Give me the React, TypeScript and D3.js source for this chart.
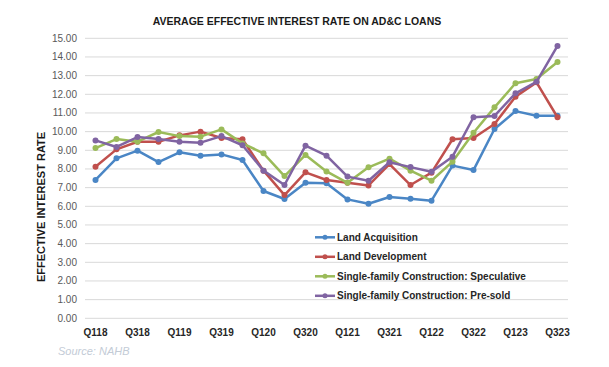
import React, { useEffect, useRef } from "react";
import * as d3 from "d3";

const quarters = [
  "Q118", "Q218", "Q318", "Q418", "Q119", "Q219", "Q319", "Q419",
  "Q120", "Q220", "Q320", "Q420", "Q121", "Q221", "Q321", "Q421",
  "Q122", "Q222", "Q322", "Q422", "Q123", "Q223", "Q323",
];
const shownLabels = ["Q118", "Q318", "Q119", "Q319", "Q120", "Q320", "Q121", "Q321", "Q122", "Q322", "Q123", "Q323"];

const landAcquisition = [7.41, 8.57, 8.98, 8.37, 8.89, 8.71, 8.78, 8.48, 6.82, 6.39, 7.26, 7.24, 6.37, 6.14, 6.5, 6.41, 6.3, 8.18, 7.94, 10.14, 11.1, 10.85, 10.85];
const landDevelopment = [8.12, 9.05, 9.46, 9.46, 9.8, 10.0, 9.66, 9.59, 7.91, 6.6, 7.82, 7.41, 7.26, 7.12, 8.26, 7.14, 7.8, 9.59, 9.66, 10.41, 11.87, 12.64, 10.77];
const speculative = [9.12, 9.6, 9.46, 9.98, 9.76, 9.73, 10.12, 9.37, 8.84, 7.62, 8.75, 7.87, 7.26, 8.09, 8.55, 7.91, 7.37, 8.39, 9.94, 11.3, 12.59, 12.82, 13.73];
const preSold = [9.53, 9.18, 9.71, 9.6, 9.46, 9.41, 9.76, 9.27, 7.91, 7.14, 9.25, 8.71, 7.59, 7.37, 8.36, 8.1, 7.85, 8.66, 10.77, 10.84, 12.05, 12.67, 14.59];

const seriesNames = [
  "Land Acquisition",
  "Land Development",
  "Single-family Construction: Speculative",
  "Single-family Construction: Pre-sold",
];
const seriesColors = ["#4a86c5", "#c0504d", "#9bbb59", "#8064a2"];
const yTicks = d3.range(0, 16, 1);

export default function App() {
  const ref = useRef<SVGSVGElement | null>(null);

  useEffect(() => {
    const width = 609;
    const height = 367;
    const font = "'Liberation Sans', Arial, sans-serif";
    const svg = d3.select(ref.current);
    svg.selectAll("*").remove();
    svg.append("rect").attr("width", width).attr("height", height).attr("fill", "#fff");

    const x = d3.scaleBand().domain(quarters).range([85, 568]);
    const y = d3.scaleLinear().domain([0, 15]).range([318.3, 38.3]);
    const cx = (q: string) => (x(q) as number) + x.bandwidth() / 2;

    // gridlines
    svg.append("g")
      .selectAll("line")
      .data(yTicks)
      .enter()
      .append("line")
      .attr("x1", 85)
      .attr("x2", 568)
      .attr("y1", (d) => y(d))
      .attr("y2", (d) => y(d))
      .attr("stroke", "#d9d9d9")
      .attr("stroke-width", 1);

    // y tick labels
    svg.append("g")
      .selectAll("text")
      .data(yTicks)
      .enter()
      .append("text")
      .attr("x", 77)
      .attr("y", (d) => y(d))
      .attr("dy", "0.35em")
      .attr("text-anchor", "end")
      .style("font-family", font)
      .style("font-size", "10px")
      .attr("fill", "#595959")
      .text((d) => d3.format(".2f")(d));

    // x labels
    svg.append("g")
      .selectAll("text")
      .data(shownLabels)
      .enter()
      .append("text")
      .attr("x", (d) => cx(d))
      .attr("y", 332)
      .attr("dy", "0.35em")
      .attr("text-anchor", "middle")
      .style("font-family", font)
      .style("font-size", "10px")
      .style("font-weight", "bold")
      .attr("fill", "#262626")
      .text((d) => d);

    const allSeries = [landAcquisition, landDevelopment, speculative, preSold];
    const line = d3
      .line<number>()
      .x((_, i) => cx(quarters[i]))
      .y((d) => y(d));

    allSeries.forEach((vals, s) => {
      const g = svg.append("g");
      g.append("path")
        .datum(vals)
        .attr("d", line)
        .attr("fill", "none")
        .attr("stroke", seriesColors[s])
        .attr("stroke-width", 2.5)
        .attr("stroke-linejoin", "round");
      g.selectAll("circle")
        .data(vals)
        .enter()
        .append("circle")
        .attr("cx", (_, i) => cx(quarters[i]))
        .attr("cy", (d) => y(d))
        .attr("r", 3)
        .attr("fill", seriesColors[s]);
    });

    // legend
    const legend = svg.append("g");
    seriesNames.forEach((name, i) => {
      const ly = 237.3 + i * 19.5;
      legend.append("line")
        .attr("x1", 315).attr("x2", 335)
        .attr("y1", ly).attr("y2", ly)
        .attr("stroke", seriesColors[i]).attr("stroke-width", 2.5);
      legend.append("circle")
        .attr("cx", 325).attr("cy", ly).attr("r", 2.5)
        .attr("fill", seriesColors[i]);
      legend.append("text")
        .attr("x", 337)
        .attr("y", ly)
        .attr("dy", "0.35em")
        .style("font-family", font)
        .style("font-size", "10px")
        .style("font-weight", "bold")
        .attr("fill", "#262626")
        .text(name);
    });

    // titles
    svg.append("text")
      .attr("x", 297)
      .attr("y", 21.7)
      .attr("dy", "0.35em")
      .attr("text-anchor", "middle")
      .style("font-family", font)
      .style("font-size", "10.5px")
      .style("font-weight", "bold")
      .attr("fill", "#1a1a1a")
      .text("AVERAGE EFFECTIVE INTEREST RATE ON AD&C LOANS");

    svg.append("text")
      .attr("transform", "translate(41,207) rotate(-90)")
      .attr("dy", "0.35em")
      .attr("text-anchor", "middle")
      .style("font-family", font)
      .style("font-size", "11px")
      .style("font-weight", "bold")
      .attr("fill", "#1a1a1a")
      .text("EFFECTIVE INTEREST RATE");

    svg.append("text")
      .attr("x", 58)
      .attr("y", 351)
      .attr("dy", "0.35em")
      .style("font-family", font)
      .style("font-size", "11px")
      .style("font-style", "italic")
      .attr("fill", "#c3cbd6")
      .text("Source: NAHB");
  }, []);

  return (
    <div style={{ position: "absolute", left: 0, top: 0 }}>
      <svg ref={ref} width={609} height={367} style={{ display: "block" }} />
    </div>
  );
}
